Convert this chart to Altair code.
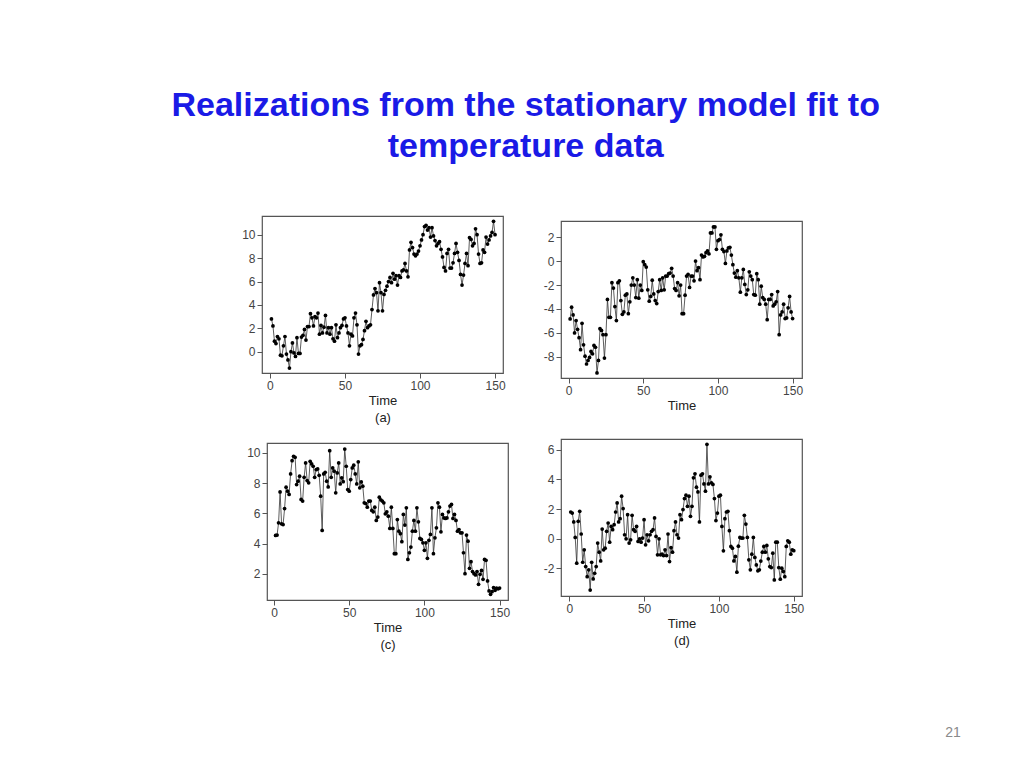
import altair as alt
import pandas as pd

title_lines = ["Realizations from the stationary model fit to", "temperature data"]
page_number = "21"
time_ticks = [0, 50, 100, 150]

# (a)
a_values = [
    2.8, 2.2, 0.9, 0.7, 1.3, 1.1, -0.3, -0.35, 0.5, 1.3,
    -0.2, -0.7, -1.4, 0.0, 0.75, -0.1, -0.4, 1.2, -0.15, -0.15,
    1.25, 1.4, 1.9, 1.0, 2.15, 2.15, 3.25, 2.9, 2.2, 3.0,
    2.9, 3.3, 1.5, 2.25, 1.6, 2.1, 3.1, 1.6, 2.05, 1.5,
    2.05, 1.1, 0.9, 2.3, 1.2, 1.6, 2.05, 2.25, 2.8, 2.9,
    2.2, 1.6, 0.5, 1.5, 1.35, 2.9, 3.3, 2.3, -0.2, 0.5,
    0.6, 1.05, 1.8, 2.6, 2.05, 2.2, 2.3, 3.6, 4.85, 5.4,
    5.05, 3.5, 5.9, 5.05, 3.5, 4.9, 5.25, 5.6, 6.0, 6.35,
    5.9, 6.7, 6.2, 6.5, 5.7, 6.5, 6.35, 6.9, 7.0, 7.55,
    6.9, 6.4, 8.7, 9.35, 8.9, 8.35, 8.2, 8.35, 8.6, 9.05,
    9.55, 10.0, 10.7, 10.8, 10.4, 10.6, 9.8, 10.6, 9.9, 9.5,
    9.05, 9.25, 9.4, 8.75, 8.1, 7.2, 6.9, 8.4, 8.75, 7.15,
    7.15, 7.6, 8.4, 9.25, 8.5, 7.8, 6.6, 5.7, 6.55, 7.55,
    8.4, 7.35, 9.75, 9.6, 9.05, 9.25, 10.5, 10.0, 8.35, 7.55,
    7.6, 8.7, 8.5, 9.8, 9.2, 9.55, 9.9, 10.2, 11.15, 10.0,
]
a_yticks = [0, 2, 4, 6, 8, 10]

# (b)
b_values = [
    -4.83, -3.85, -4.5, -6.0, -4.97, -5.7, -6.4, -7.4, -5.2, -7.0,
    -7.95, -8.6, -8.3, -8.05, -7.55, -7.75, -7.05, -7.2, -9.35, -8.3,
    -5.65, -5.8, -6.15, -8.1, -6.15, -3.2, -4.7, -4.7, -1.8, -2.25,
    -3.8, -4.97, -1.8, -1.65, -3.3, -4.45, -4.25, -2.85, -2.75, -4.4,
    -3.4, -2.0, -1.4, -2.0, -3.05, -1.55, -3.1, -2.0, -2.45, -0.05,
    -0.3, -0.5, -2.4, -3.35, -2.95, -1.6, -2.75, -3.3, -3.55, -2.55,
    -1.55, -2.45, -1.4, -2.4, -1.25, -1.25, -1.05, -1.0, -0.6, -1.25,
    -2.3, -2.45, -1.8, -2.9, -2.0, -4.4, -4.4, -2.85, -1.25, -1.1,
    -2.2, -1.25, -1.25, -1.65, 0.0, -0.8, -0.55, -1.55, 0.5, 0.35,
    0.4, 0.7, 0.85, 0.6, 2.35, 2.35, 2.85, 2.85, 0.98, 1.7,
    1.8, 2.2, 0.98, 0.8, -0.2, 0.85, 1.1, 1.15, 0.5, -0.3,
    -1.0, -1.35, -0.8, -1.4, -2.6, -1.4, -0.7, -1.95, -2.8, -2.4,
    -0.9, -1.25, -1.55, -2.8, -2.85, -1.05, -1.55, -3.6, -2.1, -3.05,
    -3.2, -3.6, -4.9, -3.2, -3.2, -2.8, -3.75, -3.6, -3.4, -2.55,
    -6.15, -4.5, -4.25, -3.6, -4.8, -4.75, -3.9, -2.95, -4.25, -4.8,
]
b_yticks = [-8, -6, -4, -2, 0, 2]

# (c)
c_values = [
    4.54, 4.56, 5.37, 7.42, 5.31, 5.26, 6.32, 7.73, 7.47, 7.25,
    8.61, 9.49, 9.78, 9.71, 7.91, 8.13, 8.46, 6.92, 6.81, 8.39,
    9.34, 8.17, 8.02, 9.45, 9.27, 9.12, 8.39, 8.9, 8.94, 8.52,
    7.14, 4.87, 8.61, 8.72, 8.13, 7.75, 10.15, 8.39, 9.01, 8.79,
    7.36, 8.68, 9.34, 7.95, 8.35, 8.1, 10.26, 9.12, 7.58, 7.47,
    8.24, 9.01, 9.19, 8.61, 7.95, 9.41, 7.69, 8.08, 7.8, 6.7,
    6.65, 6.41, 6.81, 6.81, 6.19, 6.1, 6.41, 5.53, 5.75, 7.07,
    6.9, 6.81, 6.7, 5.97, 6.1, 5.81, 5.0, 6.41, 5.0, 3.33,
    3.33, 5.59, 4.82, 4.65, 4.12, 5.93, 5.22, 6.37, 2.95, 3.39,
    3.77, 4.82, 5.53, 4.82, 6.37, 5.44, 4.34, 4.27, 4.05, 3.55,
    4.05, 3.02, 4.21, 4.6, 6.37, 3.33, 4.38, 5.04, 6.7, 6.41,
    4.78, 5.93, 5.7, 5.66, 5.7, 6.1, 6.48, 6.59, 5.66, 5.93,
    5.53, 4.82, 4.93, 4.71, 4.71, 3.39, 2.0, 4.56, 4.16, 2.36,
    2.8, 2.14, 2.0, 1.92, 2.14, 1.3, 1.96, 2.22, 1.63, 2.95,
    2.89, 1.52, 0.86, 0.64, 0.81, 1.08, 0.9, 1.04, 1.0, 1.05,
]
c_yticks = [2, 4, 6, 8, 10]

# (d)
d_values = [
    1.8, 1.73, 1.13, 0.09, -1.64, 1.17, 1.85, 0.32, -1.58, -0.74,
    -1.87, -2.55, -2.09, -3.45, -1.58, -2.7, -2.32, -1.87, -0.29, -0.9,
    -1.49, 0.65, -0.74, -0.63, 0.5, 1.06, -0.23, 0.83, 0.61, 0.95,
    1.8, 2.41, 1.13, 1.35, 2.86, 2.03, 0.27, 0.0, 1.62, -0.29,
    -0.07, 1.58, 0.61, 0.5, 0.83, -0.18, 0.0, -0.23, 0.05, 1.28,
    -0.41, 0.27, -0.14, 0.27, 0.5, 0.61, 1.4, 0.16, -1.08, 0.0,
    -1.08, -1.04, -1.13, -0.74, -1.13, 0.32, -1.53, -0.59, -0.9, 0.54,
    1.13, 0.27, 0.05, 1.62, 1.28, 1.96, 2.7, 2.93, 2.18, 2.86,
    1.51, 2.18, 4.1, 4.37, 3.47, 3.15, 1.13, 4.28, 4.37, 3.69,
    3.2, 6.35, 3.69, 4.17, 3.76, 3.65, 2.7, 1.22, 1.73, 2.86,
    2.93, 0.83, -0.81, 1.35, 1.8, 1.85, 0.54, -0.52, -0.63, -1.49,
    -1.19, -2.25, -0.5, 0.09, 0.05, 0.05, 1.58, 0.99, 0.09, -1.42,
    -2.09, -1.04, 0.09, -1.26, -1.76, -2.16, -2.09, -1.5, -0.9, -0.52,
    -0.9, -0.45, -1.35, -1.87, -1.94, -0.97, -2.77, -0.23, -0.23, -1.94,
    -2.72, -1.98, -2.2, -2.55, -0.52, -0.14, -0.23, -1.04, -0.74, -0.8,
]
d_yticks = [-2, 0, 2, 4, 6]


def panel(values, xdom, ydom, yticks, xtitle, extent, top_pad=0, extra=None):
    df = pd.DataFrame({"Time": list(range(1, len(values) + 1)), "value": values})
    x = alt.X("Time:Q", scale=alt.Scale(domain=xdom, nice=False, zero=False),
              axis=alt.Axis(values=time_ticks, title=xtitle, labelOverlap=False))
    y = alt.Y("value:Q", scale=alt.Scale(domain=ydom, nice=False, zero=False),
              axis=alt.Axis(values=yticks, title=None, minExtent=extent, maxExtent=extent,
                            labelOverlap=False, labelExpr="'' + datum.value"))
    base = alt.Chart(df).encode(x=x, y=y)
    line = base.mark_line(color="#333333", strokeWidth=0.8)
    pts = base.mark_circle(color="black", size=14, opacity=1)
    layers = [line, pts]
    if extra is not None:
        layers.append(extra)
    ch = alt.layer(*layers).properties(width=241, height=157)
    if top_pad:
        ch = ch.properties(title=alt.TitleParams("x", fontSize=top_pad, offset=0,
                                                 color="white"))
    return ch


def spacer():
    return alt.Chart(pd.DataFrame({"v": [0]})).mark_point(size=0, opacity=0).properties(
        width=1, height=1, view=alt.ViewBackground(stroke="transparent"))


page_text = alt.Chart(pd.DataFrame({"label": [page_number]})).mark_text(
    fontSize=14, color="#8a8a8a", font="Liberation Sans"
).encode(text="label:N", x=alt.value(392), y=alt.value(294))

pa = panel(a_values, [-5.3, 155.3], [-1.82, 11.6], a_yticks, ["Time", "(a)"], 30)
pb = panel(b_values, [-5.1, 156.3], [-9.77, 3.35], b_yticks, "Time", 35.4, top_pad=5.1)
pc = panel(c_values, [-4.7, 155.6], [0.26, 10.66], c_yticks, ["Time", "(c)"], 35, top_pad=8.2)
pd_ = panel(d_values, [-5.5, 155.5], [-3.85, 6.71], d_yticks, ["Time", "(d)"], 30,
            extra=page_text)

chart = alt.concat(
    spacer(), spacer(), spacer(),
    spacer(), pa, pb,
    spacer(), pc, pd_,
    columns=3, align="none",
    spacing={"row": 8, "column": 19},
).properties(
    title=alt.TitleParams(
        title_lines, fontSize=34, font="Liberation Sans", fontWeight="bold",
        color="#1a1ae6", anchor="start", align="center", dx=316.2, offset=40.7,
        lineHeight=41,
    ),
    padding={"left": 163, "top": 80, "right": 0, "bottom": 0},
).configure_view(
    stroke="#555555", strokeWidth=1.2
).configure_axis(
    domain=False, grid=False, tickColor="#555555", tickSize=5, tickWidth=1,
    labelFont="Liberation Sans", labelFontSize=12, labelColor="#444444", labelPadding=2,
    labelOverlap=False,
    titleFont="Liberation Sans", titleFontSize=13, titleColor="#222222",
    titleFontWeight="normal", titlePadding=3, titleLineHeight=17,
)

chart.save("out.html", embed_options={"renderer": "svg", "actions": False})
